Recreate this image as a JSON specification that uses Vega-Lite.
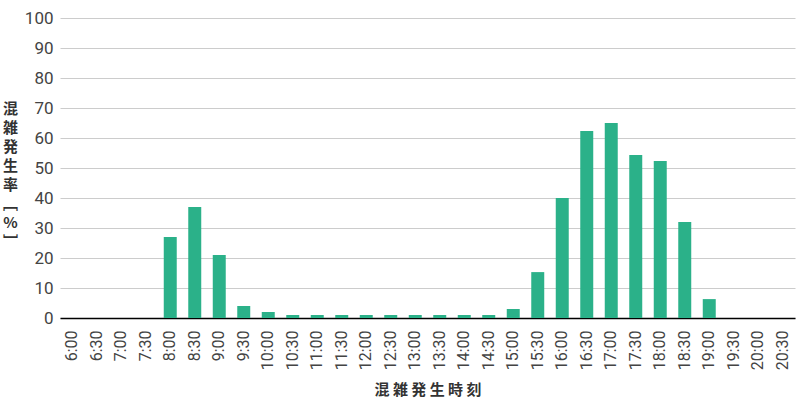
{
  "$schema": "https://vega.github.io/schema/vega-lite/v6.json",
  "autosize": {"type": "none"},
  "width": 735,
  "height": 300,
  "padding": {"left": 60, "top": 18, "right": 5, "bottom": 82},
  "background": "white",
  "config": {"view": {"stroke": null}},
  "data": {"values": [
    {"time": "6:00", "rate": 0}, {"time": "6:30", "rate": 0}, {"time": "7:00", "rate": 0}, {"time": "7:30", "rate": 0},
    {"time": "8:00", "rate": 27}, {"time": "8:30", "rate": 37}, {"time": "9:00", "rate": 21}, {"time": "9:30", "rate": 4},
    {"time": "10:00", "rate": 2}, {"time": "10:30", "rate": 1}, {"time": "11:00", "rate": 1}, {"time": "11:30", "rate": 1},
    {"time": "12:00", "rate": 1}, {"time": "12:30", "rate": 1}, {"time": "13:00", "rate": 1}, {"time": "13:30", "rate": 1},
    {"time": "14:00", "rate": 1}, {"time": "14:30", "rate": 1}, {"time": "15:00", "rate": 3}, {"time": "15:30", "rate": 15.3},
    {"time": "16:00", "rate": 40}, {"time": "16:30", "rate": 62.3}, {"time": "17:00", "rate": 65}, {"time": "17:30", "rate": 54.3},
    {"time": "18:00", "rate": 52.3}, {"time": "18:30", "rate": 32}, {"time": "19:00", "rate": 6.3}, {"time": "19:30", "rate": 0},
    {"time": "20:00", "rate": 0}, {"time": "20:30", "rate": 0}
  ]},
  "mark": {"type": "bar", "color": "#2bb189"},
  "encoding": {
    "x": {
      "field": "time", "type": "nominal", "sort": null,
      "scale": {"paddingInner": 0.47, "paddingOuter": 0.235},
      "axis": {
        "title": "混 雑 発 生 時 刻",
        "titleFont": "Noto Sans CJK JP", "titleFontSize": 15, "titleFontWeight": "bold", "titleColor": "#333333",
        "titlePadding": 13,
        "labelAngle": -90, "labelAlign": "right", "labelBaseline": "middle",
        "labelFont": "Liberation Sans Narrow, Roboto", "labelFontSize": 16, "labelColor": "#444444",
        "labelPadding": 12, "ticks": false,
        "domainColor": "#000000", "domainWidth": 1.5, "grid": false
      }
    },
    "y": {
      "field": "rate", "type": "quantitative",
      "scale": {"domain": [0, 100], "nice": false},
      "axis": {
        "values": [0, 10, 20, 30, 40, 50, 60, 70, 80, 90, 100],
        "title": ["混", "雑", "発", "生", "率", "﹇", "%", "﹈"],
        "titleAngle": 0, "titleAlign": "center", "titleBaseline": "middle",
        "titleX": -50, "titleY": 90, "titleLineHeight": 19,
        "titleFont": "Noto Sans CJK JP", "titleFontSize": 15, "titleFontWeight": "bold", "titleColor": "#333333",
        "labelFont": "Liberation Sans Narrow, Roboto", "labelFontSize": 17, "labelColor": "#444444",
        "labelPadding": 7, "ticks": false, "domain": false,
        "grid": true, "gridColor": "#cccccc", "gridWidth": 1
      }
    }
  }
}
